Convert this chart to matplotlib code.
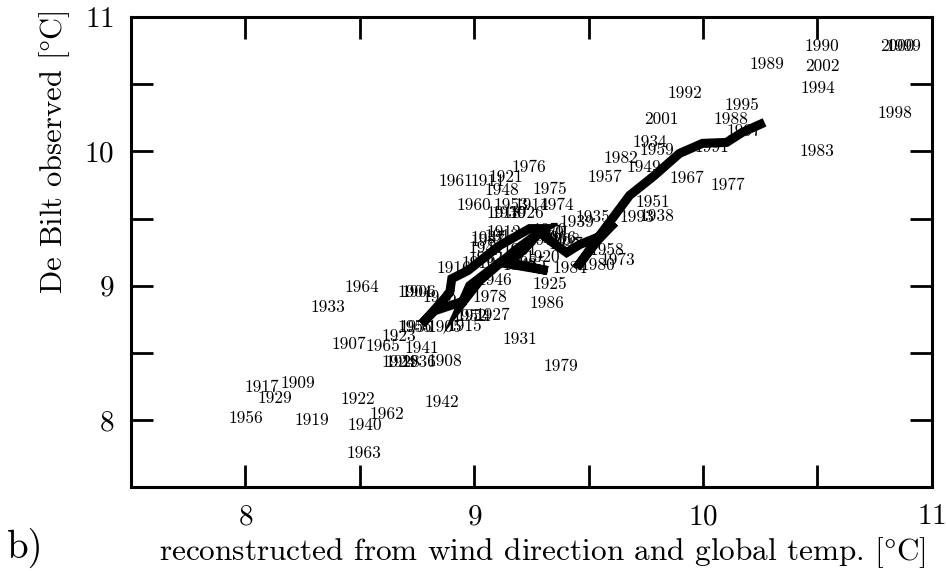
import matplotlib
matplotlib.use('Agg')
import matplotlib.pyplot as plt
from matplotlib.ticker import MultipleLocator
import numpy as np

plt.rcParams['font.family'] = 'serif'
plt.rcParams['font.serif'] = ['cmr10']
plt.rcParams['mathtext.fontset'] = 'cm'
plt.rcParams['axes.formatter.use_mathtext'] = True

# year labels: (reconstructed, observed) annual mean temperature
years = [1990, 2000, 1999, 1989, 2002, 1994, 1992, 1995, 1998, 2001,
         1988, 1997, 1983, 1934, 1959, 1982, 1949, 1976, 1957, 1967,
         1977, 1961, 1911, 1921, 1948, 1975, 1960, 1953, 1914, 1974,
         1918, 1930, 1926, 1935, 1939, 1951, 1993, 1938, 1958, 1973,
         1984, 1980, 1925, 1986, 1931, 1978, 1916, 1964, 1933, 1904,
         1906, 1945, 1927, 1952, 1954, 1955, 1950, 1905, 1915, 1923,
         1907, 1965, 1941, 1924, 1928, 1936, 1908, 1917, 1909, 1929,
         1922, 1942, 1956, 1919, 1962, 1940, 1963, 1979,
         1937, 1987, 1944, 1912, 1913, 1970, 1971, 1969, 1966, 1968,
         1920, 1947, 1932, 1910, 1943, 1946, 1972, 1981, 1985, 1991]
x_rec = [10.52, 10.85, 10.88, 10.28, 10.52, 10.50, 9.92, 10.17, 10.84, 9.82,
         10.12, 10.18, 10.50, 9.77, 9.80, 9.64, 9.74, 9.24, 9.57, 9.93,
         10.11, 8.92, 9.06, 9.14, 9.12, 9.33, 9.00, 9.16, 9.25, 9.36,
         9.13, 9.15, 9.23, 9.52, 9.45, 9.78, 9.71, 9.80, 9.58, 9.63,
         9.42, 9.54, 9.33, 9.32, 9.20, 9.07, 8.91, 8.51, 8.36, 8.74,
         8.76, 8.85, 9.08, 8.98, 9.00, 8.74, 8.75, 8.87, 8.96, 8.67,
         8.45, 8.60, 8.77, 8.67, 8.69, 8.76, 8.87, 8.07, 8.23, 8.13,
         8.49, 8.86, 8.00, 8.29, 8.62, 8.52, 8.52, 9.38,
         9.06, 9.06, 9.05, 9.13, 9.12, 9.33, 9.34, 9.32, 9.37, 9.39,
         9.30, 9.40, 9.05, 9.02, 9.20, 9.09, 9.31, 9.20, 9.24, 10.04]
y_obs = [10.78, 10.78, 10.78, 10.65, 10.63, 10.47, 10.43, 10.34, 10.28, 10.24,
         10.24, 10.15, 10.00, 10.07, 10.01, 9.95, 9.88, 9.88, 9.81, 9.80,
         9.75, 9.78, 9.78, 9.81, 9.71, 9.72, 9.60, 9.60, 9.60, 9.60,
         9.54, 9.54, 9.54, 9.51, 9.47, 9.62, 9.51, 9.52, 9.26, 9.19,
         9.13, 9.15, 9.01, 8.87, 8.60, 8.91, 9.13, 8.99, 8.84, 8.95,
         8.95, 8.91, 8.78, 8.77, 8.77, 8.69, 8.69, 8.69, 8.70, 8.62,
         8.56, 8.55, 8.53, 8.43, 8.43, 8.43, 8.44, 8.24, 8.27, 8.16,
         8.15, 8.13, 8.01, 8.00, 8.04, 7.96, 7.75, 8.40,
         9.35, 9.33, 9.28, 9.40, 9.37, 9.41, 9.40, 9.39, 9.35, 9.34,
         9.21, 9.31, 9.20, 9.17, 9.15, 9.04, 9.34, 9.26, 9.17, 10.03]

# smoothed trajectory
x_smooth = [8.959, 8.827, 8.771, 8.893, 8.902, 8.972, 9.111, 9.242, 9.308, 9.177,
            9.024, 8.945, 8.980, 9.111, 9.321, 9.155, 9.221, 9.286, 9.343, 9.404,
            9.461, 9.548, 9.614, 9.539, 9.448, 9.548, 9.679, 9.788, 9.897, 9.998,
            10.103, 10.172, 10.269]
y_smooth = [8.888, 8.813, 8.716, 8.948, 9.052, 9.112, 9.299, 9.425, 9.425, 9.261,
            9.037, 8.866, 9.000, 9.172, 9.112, 9.172, 9.276, 9.396, 9.321, 9.246,
            9.306, 9.366, 9.470, 9.336, 9.134, 9.373, 9.672, 9.821, 9.985, 10.060,
            10.067, 10.142, 10.216]

fig = plt.figure(figsize=(9.46, 5.71), dpi=100)
ax = fig.add_axes([0.1385, 0.147, 0.8465, 0.823])

for yr, xv, yv in zip(years, x_rec, y_obs):
    ax.text(xv, yv, str(yr), fontsize=12.5, ha='center', va='center', zorder=2)

ax.plot(x_smooth, y_smooth, color='black', linewidth=6.5, zorder=3,
        solid_joinstyle='miter', solid_capstyle='butt')

ax.set_xlim(7.5, 11)
ax.set_ylim(7.5, 11)
ax.xaxis.set_major_locator(MultipleLocator(1))
ax.xaxis.set_minor_locator(MultipleLocator(0.5))
ax.yaxis.set_major_locator(MultipleLocator(1))
ax.yaxis.set_minor_locator(MultipleLocator(0.5))
ax.tick_params(which='both', direction='in', length=16, width=2,
               top=True, right=True, labelsize=21, pad=12)
for s in ax.spines.values():
    s.set_linewidth(2.2)

fig.text(0.573, 0.033, r'reconstructed from wind direction and global temp. [$\degree$C]',
         fontsize=22.5, ha='center', va='center')
fig.text(0.058, 0.733, r'De Bilt observed [$\degree$C]', fontsize=22,
         rotation=90, ha='center', va='center')
fig.text(0.027, 0.04, 'b)', fontsize=28, ha='center', va='center')

fig.savefig('out.png', dpi=100)
